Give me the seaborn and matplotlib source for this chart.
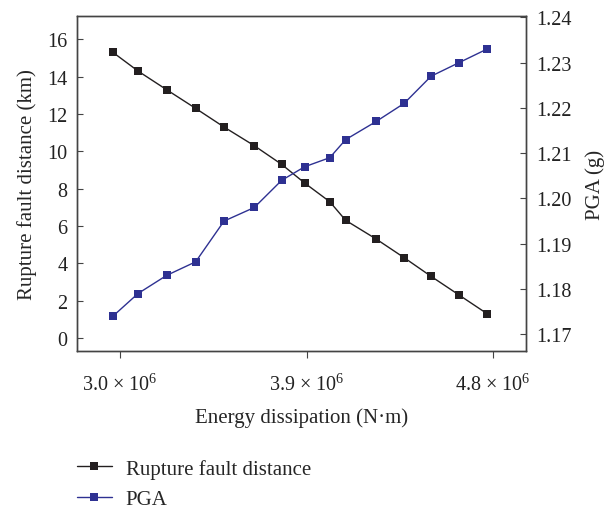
import matplotlib
matplotlib.use("Agg")
import matplotlib.pyplot as plt
import seaborn as sns
import pandas as pd
from matplotlib.lines import Line2D

sns.set_style("ticks")
plt.rcParams['font.family'] = ['Liberation Serif', 'DejaVu Serif']
plt.rcParams['mathtext.fontset'] = 'custom'
plt.rcParams['mathtext.rm'] = 'Liberation Serif'
plt.rcParams['mathtext.it'] = 'Liberation Serif:italic'

energy = [2.966e6, 3.087e6, 3.225e6, 3.365e6, 3.502e6, 3.648e6, 3.780e6, 3.891e6,
          4.012e6, 4.089e6, 4.236e6, 4.371e6, 4.501e6, 4.636e6, 4.771e6]
rupture_distance = [15.3, 14.3, 13.3, 12.3, 11.3, 10.3, 9.3, 8.3,
                    7.3, 6.3, 5.3, 4.3, 3.3, 2.3, 1.3]
pga = [1.174, 1.179, 1.183, 1.186, 1.195, 1.198, 1.204, 1.207,
       1.209, 1.213, 1.217, 1.221, 1.227, 1.230, 1.233]
x_ticks = [3.0e6, 3.9e6, 4.8e6]
x_tick_labels = [r"3.0 $\times$ 10$^{6}$", r"3.9 $\times$ 10$^{6}$", r"4.8 $\times$ 10$^{6}$"]
left_ticks = [0, 2, 4, 6, 8, 10, 12, 14, 16]
right_ticks = [1.17, 1.18, 1.19, 1.20, 1.21, 1.22, 1.23, 1.24]

df = pd.DataFrame({"energy": energy, "dist": rupture_distance, "pga": pga})

black = "#231f20"
blue = "#2e3192"
fs_tick = 14.5
fs_lab = 15

fig = plt.figure(figsize=(6.15, 5.10), dpi=100)
ax = fig.add_axes([77/615, 1-352/510, (526-77)/615, (352-17)/510])
ax2 = ax.twinx()

sns.lineplot(data=df, x="energy", y="dist", ax=ax, color=black, marker="s",
             markersize=6.2, markeredgewidth=0, linewidth=1)
sns.lineplot(data=df, x="energy", y="pga", ax=ax2, color=blue, marker="s",
             markersize=6.2, markeredgewidth=0, linewidth=1)

ax.set_xlim(2.7925e6, 4.959e6)
ax.set_ylim(-0.7, 17.25)
ax2.set_ylim(1.1663, 1.2403)
ax.set_xticks(x_ticks)
ax.set_xticklabels(x_tick_labels, fontsize=fs_tick)
ax.set_yticks(left_ticks)
ax.set_yticklabels([str(t) for t in left_ticks], fontsize=fs_tick)
ax2.set_yticks(right_ticks)
ax2.set_yticklabels([f"{t:.2f}" for t in right_ticks], fontsize=fs_tick)

ax.set_xlabel("Energy dissipation (N·m)", fontsize=fs_lab, labelpad=9)
ax.set_ylabel("Rupture fault distance (km)", fontsize=fs_lab, labelpad=7)
ax2.set_ylabel("PGA (g)", fontsize=fs_lab, labelpad=10)

for a in (ax, ax2):
    for s in a.spines.values():
        s.set_color("#444444")
        s.set_linewidth(1.0)
ax.tick_params(axis="y", direction="in", length=4, width=0.8, colors="#444444", labelcolor="#222222", pad=7)
ax.tick_params(axis="x", direction="out", length=5, width=0.8, colors="#444444", labelcolor="#222222", pad=11)
ax2.tick_params(axis="y", direction="in", length=4, width=0.8, colors="#444444", labelcolor="#222222", pad=7)

handles = [Line2D([], [], color=black, marker="s", markersize=6.2, markeredgewidth=0, linewidth=1),
           Line2D([], [], color=blue, marker="s", markersize=6.2, markeredgewidth=0, linewidth=1)]
fig.legend(handles, ["Rupture fault distance", "PGA"], loc="upper left",
           bbox_to_anchor=(58/615, 1-441/510), frameon=False, fontsize=fs_lab,
           handlelength=1.7, handletextpad=0.65, labelspacing=0.52)

fig.savefig("out.png", dpi=100)
